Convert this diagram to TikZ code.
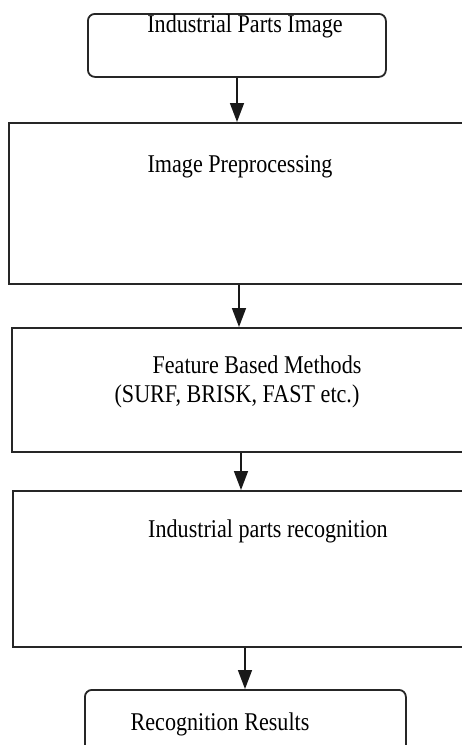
\documentclass[tikz,border=0pt]{standalone}
\usepackage{fontspec}
\setmainfont{Liberation Serif}
\usetikzlibrary{arrows.meta}
% step texts are set slightly narrow and tall
\newcommand{\steptext}[1]{\scalebox{0.97}[1.12]{#1}}
\begin{document}
\begin{tikzpicture}[x=1pt,y=-1pt,
  box/.style={draw=black!85,line width=1.8pt,inner sep=0pt,anchor=north west},
  roundbox/.style={box,rounded corners=7pt},
  label/.style={anchor=base,inner sep=0pt,font=\fontsize{22.8}{27}\selectfont},
  flow/.style={draw=black!90,line width=1.6pt,-{Triangle[length=19pt,width=14pt]}}]
\useasboundingbox (0,0) rectangle (462,745);
\clip (0,0) rectangle (462,745);
\fill[white] (0,0) rectangle (462,745);

% boxes (the three wide steps run past the right edge)
\node[roundbox,minimum width=298pt,minimum height=63pt] (b1) at (87,13) {};
\node[box,minimum width=470pt,minimum height=161pt] (b2) at (8,122) {};
\node[box,minimum width=470pt,minimum height=124pt] (b3) at (11,327) {};
\node[box,minimum width=470pt,minimum height=156pt] (b4) at (12,490) {};
\node[roundbox,minimum width=321pt,minimum height=80pt] (b5) at (84,689) {};

% texts
\node[label] (t1) at (245,32) {\steptext{Industrial Parts Image}};
\node[label] (t2) at (240,172) {\steptext{Image Preprocessing}};
\node[label] (t3a) at (257,373) {\steptext{Feature Based Methods}};
\node[label] (t3b) at (237,402) {\steptext{(SURF, BRISK, FAST etc.)}};
\node[label] (t4) at (268,537) {\steptext{Industrial parts recognition}};
\node[label] (t5) at (220,730) {\steptext{Recognition Results}};

% connectors
\coordinate (a1) at (237,0);
\coordinate (a2) at (239,0);
\coordinate (a3) at (241,0);
\coordinate (a4) at (245,0);
\draw[flow] (b1.south -| a1) -- (b2.north -| a1);
\draw[flow] (b2.south -| a2) -- (b3.north -| a2);
\draw[flow] (b3.south -| a3) -- (b4.north -| a3);
\draw[flow] (b4.south -| a4) -- (b5.north -| a4);
\end{tikzpicture}
\end{document}
